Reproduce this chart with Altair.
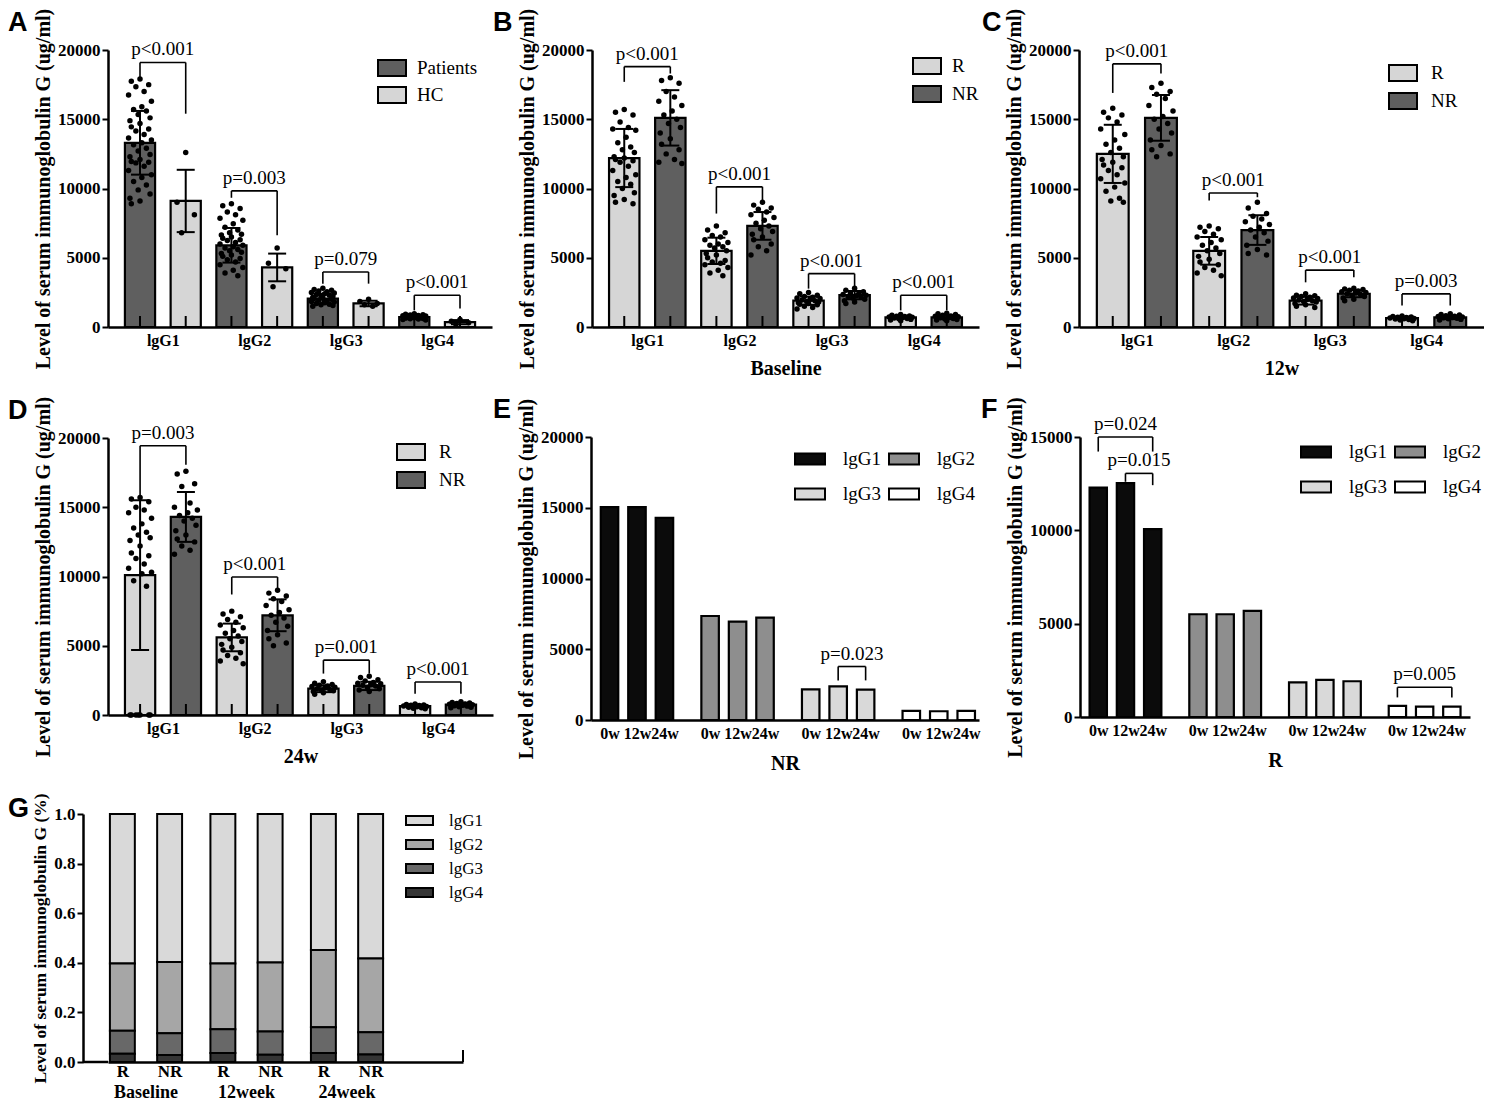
import altair as alt
import pandas as pd

SERIF = "Liberation Serif"
SANS = "Liberation Sans"
CATS = ["lgG1", "lgG2", "lgG3", "lgG4"]
TIMES = ["0w", "12w", "24w"]
YTITLE = "Level of serum immunoglobulin G (ug/ml)"
DARK = "#5f5f5f"
LIGHT = "#d6d6d6"

# ---------------- Panel A : Patients vs HC ----------------
A_GROUPS = ["Patients", "HC"]
A_MEAN_PAT = [13300, 5900, 2050, 720]
A_SD_PAT = [2300, 1250, 350, 120]
A_MEAN_HC = [9100, 4300, 1700, 350]
A_SD_HC = [2250, 1000, 200, 150]
A_DOTS_PAT = [
    [17900, 17750, 17500, 17350, 17000, 16750, 16300, 15900, 15700, 15600, 15350, 15100, 14900, 14700,
     14450, 14300, 14150, 13900, 13650, 13500, 13300, 13150, 12900, 12700, 12450, 12300, 12100, 11950,
     11900, 11850, 11600, 11300, 11000, 10800, 10500, 10250, 9900, 9600, 9300, 9100, 8900],
    [8900, 8750, 8550, 8300, 8100, 7850, 7700, 7450, 7200, 7000, 6800, 6700, 6650, 6500, 6400, 6300,
     6250, 6100, 6000, 5900, 5800, 5700, 5600, 5500, 5400, 5300, 5200, 5100, 4950, 4850, 4700, 4500,
     4300, 4100, 3900, 3700],
    [2800, 2700, 2650, 2600, 2550, 2500, 2450, 2400, 2350, 2300, 2250, 2200, 2150, 2100, 2050, 2000,
     1950, 1900, 1850, 1800, 1750, 1700, 1650, 1600, 1550, 1500],
    [950, 920, 890, 860, 840, 820, 800, 780, 760, 740, 720, 700, 680, 660, 640, 620, 600, 570, 540, 510],
]
A_DOTS_HC = [
    [12600, 9000, 8100, 6800],
    [5700, 4600, 4200, 2900],
    [2000, 1850, 1700, 1600, 1500],
    [550, 420, 300, 200],
]
A_BRK_TOP = [19100, 9830, 3975, 2290]
A_BRK_LBOT = [18000, 9330, 3130, 1200]
A_BRK_RBOT = [15400, 6630, 3130, 1330]
A_PLAB = ["p<0.001", "p=0.003", "p=0.079", "p<0.001"]

# ---------------- Panel B : Baseline R vs NR ----------------
RN_GROUPS = ["R", "NR"]
B_MEAN_R = [12200, 5500, 1900, 700]
B_SD_R = [2100, 950, 300, 90]
B_MEAN_NR = [15100, 7300, 2300, 700]
B_SD_NR = [2000, 1000, 300, 130]
B_DOTS_R = [
    [15700, 15500, 15300, 14800, 14400, 14300, 14200, 13700, 13300, 13000, 12800, 12600, 12300, 12200,
     12100, 12000, 11900, 11600, 11300, 11000, 10800, 10500, 10300, 10000, 9700, 9500, 9200, 9000, 8900],
    [7300, 7000, 6800, 6600, 6500, 6300, 6100, 6000, 5900, 5800, 5700, 5500, 5300, 5200, 5000, 4800,
     4700, 4600, 4500, 4300, 4100, 3900, 3700],
    [2500, 2400, 2300, 2200, 2150, 2100, 2050, 2000, 1950, 1900, 1850, 1800, 1750, 1700, 1650, 1600,
     1500, 1400, 1300],
    [900, 850, 800, 780, 750, 720, 700, 680, 650, 620, 600, 550, 500, 450],
]
B_DOTS_NR = [
    [18000, 17800, 17600, 17000, 16600, 16300, 16000, 15600, 15300, 15000, 14700, 14400, 14000, 13600,
     13200, 12800, 12500, 12100, 11900, 11800],
    [9000, 8800, 8600, 8500, 8300, 8100, 7900, 7700, 7500, 7300, 7100, 6900, 6700, 6500, 6300, 6000,
     5800, 5500, 5200],
    [2800, 2650, 2550, 2450, 2400, 2350, 2300, 2250, 2200, 2150, 2100, 2000, 1900, 1800, 1700],
    [1000, 950, 900, 850, 800, 770, 740, 700, 660, 620, 580, 540, 500, 450],
]
B_BRK_TOP = [18800, 10120, 3855, 2290]
B_BRK_LBOT = [17700, 8190, 2770, 1200]
B_BRK_RBOT = [18300, 9160, 2890, 1200]
B_PLAB = ["p<0.001", "p<0.001", "p<0.001", "p<0.001"]

# ---------------- Panel C : 12w R vs NR ----------------
C_MEAN_R = [12500, 5500, 1900, 650]
C_SD_R = [2100, 1000, 280, 100]
C_MEAN_NR = [15100, 7000, 2400, 700]
C_SD_NR = [1650, 1070, 250, 130]
C_DOTS_R = [
    [15800, 15500, 15300, 15100, 14800, 14300, 13900, 13500, 13200, 12900, 12600, 12300, 12100, 11900,
     11700, 11500, 11300, 11000, 10700, 10400, 10100, 9800, 9300, 9100, 9000],
    [7300, 7200, 7100, 6900, 6700, 6500, 6300, 6100, 5900, 5700, 5500, 5300, 5100, 4900, 4700, 4500,
     4300, 4100, 3900, 3700],
    [2400, 2300, 2250, 2200, 2150, 2100, 2050, 2000, 1950, 1900, 1850, 1800, 1700, 1600, 1500, 1400],
    [800, 760, 730, 700, 680, 650, 620, 600, 570, 540, 500, 450],
]
C_DOTS_NR = [
    [17600, 17300, 17000, 16800, 16500, 16000, 15600, 15200, 15000, 14700, 14300, 14000, 13500, 13100,
     12800, 12500, 12300],
    [9000, 8600, 8200, 8000, 7800, 7600, 7400, 7200, 7000, 6800, 6500, 6200, 5900, 5600, 5300, 5200],
    [2800, 2750, 2700, 2650, 2600, 2550, 2500, 2450, 2400, 2350, 2300, 2200, 2100, 2000, 1900],
    [950, 900, 860, 820, 780, 750, 720, 690, 660, 630, 600, 550, 500],
]
C_BRK_TOP = [19000, 9680, 4110, 2390]
C_BRK_LBOT = [16900, 9130, 3225, 1550]
C_BRK_RBOT = [18300, 9370, 3585, 1550]
C_PLAB = ["p<0.001", "p<0.001", "p<0.001", "p=0.003"]

# ---------------- Panel D : 24w R vs NR ----------------
D_MEAN_R = [10100, 5600, 1900, 650]
D_SD_R = [5400, 1000, 250, 100]
D_MEAN_NR = [14300, 7200, 2100, 750]
D_SD_NR = [1800, 1150, 300, 130]
D_DOTS_R = [
    [15700, 15600, 15400, 15000, 14800, 14600, 14200, 13800, 13500, 13200, 13000, 12800, 12600, 12200,
     11700, 11500, 11300, 10900, 10600, 10300, 10200, 9700, 9300, 0, 0, 0, 0, 0, 0, 0],
    [7500, 7300, 7100, 6900, 6700, 6500, 6300, 6100, 5900, 5700, 5500, 5300, 5100, 4900, 4700, 4500,
     4300, 4100, 3900, 3700],
    [2400, 2300, 2200, 2150, 2100, 2050, 2000, 1950, 1900, 1850, 1800, 1750, 1700, 1600, 1500],
    [800, 760, 720, 700, 680, 650, 620, 600, 560, 520, 480, 450],
]
D_DOTS_NR = [
    [17600, 17400, 16700, 16500, 15300, 15000, 14800, 14600, 14400, 14200, 14000, 13700, 13300, 13000,
     12700, 12500, 12200, 11900, 11600],
    [9000, 8800, 8600, 8400, 8200, 7900, 7600, 7400, 7200, 7000, 6700, 6400, 6100, 5800, 5500, 5200, 5000],
    [2800, 2700, 2550, 2450, 2350, 2300, 2250, 2200, 2150, 2100, 2000, 1900, 1800, 1700],
    [950, 900, 870, 840, 800, 770, 740, 700, 670, 640, 600, 560, 520],
]
D_BRK_TOP = [19440, 9960, 3960, 2380]
D_BRK_LBOT = [15870, 8700, 2990, 1530]
D_BRK_RBOT = [18060, 9060, 2990, 1530]
D_PLAB = ["p=0.003", "p<0.001", "p=0.001", "p<0.001"]

# ---------------- Panel E : NR over time ----------------
E_VALS = [[15050, 15050, 14280], [7350, 6950, 7230], [2170, 2380, 2150], [650, 620, 640]]
E_BRK_CAT = [2]
E_BRK_L = [1]
E_BRK_R = [2]
E_BRK_TOP = [3780]
E_BRK_LBOT = [2800]
E_BRK_RBOT = [2800]
E_PLAB = ["p=0.023"]

# ---------------- Panel F : R over time ----------------
F_VALS = [[12290, 12530, 10070], [5505, 5505, 5690], [1860, 1985, 1915], [600, 560, 560]]
F_BRK_CAT = [0, 0, 3]
F_BRK_L = [0, 1, 0]
F_BRK_R = [2, 2, 2]
F_BRK_TOP = [15000, 13050, 1590]
F_BRK_LBOT = [14220, 12600, 1050]
F_BRK_RBOT = [14220, 12420, 1050]
F_PLAB = ["p=0.024", "p=0.015", "p=0.005"]

# ---------------- Panel G : proportions ----------------
G_PERIODS = ["Baseline", "12week", "24week"]
G_IGG1 = [0.603, 0.597, 0.603, 0.599, 0.548, 0.583]
G_IGG2 = [0.271, 0.287, 0.265, 0.278, 0.312, 0.297]
G_IGG3 = [0.093, 0.088, 0.096, 0.094, 0.104, 0.090]
G_IGG4 = [0.033, 0.028, 0.036, 0.029, 0.036, 0.030]

# ---------------- helpers ----------------
HW = 0.165
JIT = [0.0, -0.095, 0.095, -0.045, 0.045, -0.125, 0.125, 0.02, -0.07, 0.07, -0.02, 0.11, -0.11]
CAT_EXPR = "[" + ",".join("'%s'" % c for c in CATS) + "][round(datum.value)]"
RECT_WIDE = "M-1,-0.57H1V0.57H-1Z"
RECT_THIN = "M-1,-0.37H1V0.37H-1Z"
RECT_G = "M-1,-0.33H1V0.33H-1Z"
LETTER_Y = -40


def letter_layer(letter, dx, dy):
    return alt.Chart(pd.DataFrame({"t": [letter]})).mark_text(
        font=SANS, fontSize=27, fontWeight="bold", align="left", baseline="top", color="black"
    ).encode(x=alt.value(dx), y=alt.value(dy), text="t:N")


def rect_legend(x, y, path, size, label_offset, row_pad, columns=1, col_pad=0, font_size=19):
    kw = dict(title=None, orient="none", legendX=x, legendY=y, symbolType=path, symbolSize=size,
              symbolStrokeColor="black", symbolStrokeWidth=2, labelFont=SERIF,
              labelFontSize=font_size, labelColor="black", labelOffset=label_offset,
              rowPadding=row_pad, symbolOpacity=1)
    if columns > 1:
        kw.update(columns=columns, columnPadding=col_pad, direction="horizontal")
    return alt.Legend(**kw)


def yaxis(values, title, fmt="d", title_size=20, offset=0):
    return alt.Axis(values=values, format=fmt, title=title, grid=False, tickSize=6,
                    labelPadding=2, titlePadding=4, titleFontSize=title_size, offset=offset)


def pair_panel(letter, dx, groups, fills, means, sds, dots, b_top, b_lbot, b_rbot, b_lab,
               xtitle, width, height, legend):
    bar_rows, dot_rows = [], []
    for gi, g in enumerate(groups):
        for ci in range(4):
            pos = ci + (gi - 0.5) * 0.5
            m, s = means[gi][ci], sds[gi][ci]
            bar_rows.append(dict(grp=g, pos=pos, x1=pos - HW, x2=pos + HW, mean=m, lo=m - s, hi=m + s))
            for k, v in enumerate(dots[gi][ci]):
                dot_rows.append(dict(jx=pos + JIT[k % len(JIT)], val=v))
    bdf = pd.DataFrame(bar_rows)
    ddf = pd.DataFrame(dot_rows)
    leg_rows, hz_rows, txt_rows = [], [], []
    for ci in range(4):
        lx, rx = ci - 0.25, ci + 0.25
        leg_rows.append(dict(x=lx, top=b_top[ci], bot=b_lbot[ci]))
        leg_rows.append(dict(x=rx, top=b_top[ci], bot=b_rbot[ci]))
        hz_rows.append(dict(lx=lx, rx=rx, top=b_top[ci]))
        txt_rows.append(dict(x=ci, top=b_top[ci], label=b_lab[ci]))
    ldf, hdf, tdf = pd.DataFrame(leg_rows), pd.DataFrame(hz_rows), pd.DataFrame(txt_rows)

    xs = alt.Scale(domain=[-0.6, 3.6], nice=False, zero=False)
    ys = alt.Scale(domain=[0, 20000], nice=False)
    ax_kw = dict(values=[0, 1, 2, 3], labelExpr=CAT_EXPR, ticks=False, labelFontSize=16,
                 labelPadding=5, labelOverlap=False, labelFlush=False, grid=False)
    if xtitle:
        ax_kw.update(title=xtitle, titlePadding=10, titleFontSize=20)
    else:
        ax_kw.update(title=None)
    xax = alt.Axis(**ax_kw)
    yax = yaxis([0, 5000, 10000, 15000, 20000], YTITLE)

    def X(f):
        return alt.X(f, scale=xs, axis=xax)

    def Y(f):
        return alt.Y(f, scale=ys, axis=yax)

    bars = alt.Chart(bdf).mark_rect(stroke="black", strokeWidth=2.2).encode(
        x=X("x1:Q"), x2=alt.X2("x2"), y=Y("mean:Q"), y2=alt.datum(0),
        fill=alt.Fill("grp:N", scale=alt.Scale(domain=groups, range=fills), legend=legend),
    )
    base_ticks = alt.Chart(bdf).mark_tick(orient="vertical", size=11, thickness=2, color="black",
                                          yOffset=-5.5, opacity=1).encode(
        x=X("pos:Q"), y=alt.datum(0))
    dots_l = alt.Chart(ddf).mark_circle(size=30, color="black", opacity=1).encode(
        x=X("jx:Q"), y=Y("val:Q"))
    err = alt.Chart(bdf).mark_rule(color="black", strokeWidth=2).encode(
        x=X("pos:Q"), y=Y("lo:Q"), y2=alt.Y2("hi"))
    caps = alt.Chart(bdf).transform_fold(["lo", "hi"], as_=["k", "v"]).mark_tick(
        orient="horizontal", size=18, thickness=2, color="black", opacity=1).encode(
        x=X("pos:Q"), y=Y("v:Q"))
    legs = alt.Chart(ldf).mark_rule(color="black", strokeWidth=1.6).encode(
        x=X("x:Q"), y=Y("top:Q"), y2=alt.Y2("bot"))
    hz = alt.Chart(hdf).mark_rule(color="black", strokeWidth=1.6).encode(
        x=X("lx:Q"), x2=alt.X2("rx"), y=Y("top:Q"))
    txt = alt.Chart(tdf).mark_text(font=SERIF, fontSize=19, baseline="bottom", dy=-3,
                                   color="black").encode(
        x=X("x:Q"), y=Y("top:Q"), text="label:N")
    return alt.layer(bars, base_ticks, dots_l, err, caps, legs, hz, txt,
                     letter_layer(letter, dx, LETTER_Y)).properties(width=width, height=height)


TOFF = 0.273
THW = 0.087
TIME_EXPR = ("(datum.value - round(datum.value)) < -0.1 ? '0w' : "
             "((datum.value - round(datum.value)) > 0.1 ? '24w' : '12w')")


def time_panel(letter, dx, vals, ymax, yvals, xdom, bcat, bl, br, btop, blbot, brbot, blab,
               xtitle, width, height, legend):
    rows, xvals = [], []
    for ci, c in enumerate(CATS):
        for ti in range(3):
            pos = ci + (ti - 1) * TOFF
            xvals.append(round(pos, 4))
            rows.append(dict(cat=c, x1=pos - THW, x2=pos + THW, val=vals[ci][ti]))
    bdf = pd.DataFrame(rows)
    leg_rows, hz_rows, txt_rows = [], [], []
    for i in range(len(bcat)):
        lx = bcat[i] + (bl[i] - 1) * TOFF
        rx = bcat[i] + (br[i] - 1) * TOFF
        leg_rows.append(dict(x=lx, top=btop[i], bot=blbot[i]))
        leg_rows.append(dict(x=rx, top=btop[i], bot=brbot[i]))
        hz_rows.append(dict(lx=lx, rx=rx, top=btop[i]))
        txt_rows.append(dict(x=(lx + rx) / 2, top=btop[i], label=blab[i]))
    ldf, hdf, tdf = pd.DataFrame(leg_rows), pd.DataFrame(hz_rows), pd.DataFrame(txt_rows)
    xs = alt.Scale(domain=xdom, nice=False, zero=False)
    ys = alt.Scale(domain=[0, ymax], nice=False)
    xax = alt.Axis(values=xvals, labelExpr=TIME_EXPR, ticks=False, labelFontSize=16,
                   labelPadding=5, labelOverlap=False, labelFlush=False, grid=False,
                   title=xtitle, titlePadding=12, titleFontSize=20)
    yax = yaxis(yvals, YTITLE)

    def X(f):
        return alt.X(f, scale=xs, axis=xax)

    def Y(f):
        return alt.Y(f, scale=ys, axis=yax)

    bars = alt.Chart(bdf).mark_rect(stroke="black", strokeWidth=2.2).encode(
        x=X("x1:Q"), x2=alt.X2("x2"), y=Y("val:Q"), y2=alt.datum(0),
        fill=alt.Fill("cat:N", scale=alt.Scale(domain=CATS,
                                               range=["#0b0b0b", "#8e8e8e", "#d9d9d9", "#ffffff"]),
                      legend=legend),
    )
    legs = alt.Chart(ldf).mark_rule(color="black", strokeWidth=1.6).encode(
        x=X("x:Q"), y=Y("top:Q"), y2=alt.Y2("bot"))
    hz = alt.Chart(hdf).mark_rule(color="black", strokeWidth=1.6).encode(
        x=X("lx:Q"), x2=alt.X2("rx"), y=Y("top:Q"))
    txt = alt.Chart(tdf).mark_text(font=SERIF, fontSize=19, baseline="bottom", dy=-3,
                                   color="black").encode(
        x=X("x:Q"), y=Y("top:Q"), text="label:N")
    return alt.layer(bars, legs, hz, txt, letter_layer(letter, dx, LETTER_Y)).properties(
        width=width, height=height)


# ---------------- build panels ----------------
A = pair_panel("A", -100, A_GROUPS, [DARK, LIGHT], [A_MEAN_PAT, A_MEAN_HC], [A_SD_PAT, A_SD_HC],
               [A_DOTS_PAT, A_DOTS_HC], A_BRK_TOP, A_BRK_LBOT, A_BRK_RBOT, A_PLAB, None, 384, 277,
               rect_legend(269, 3, RECT_WIDE, 784, 10, 0))
B = pair_panel("B", -99, RN_GROUPS, [LIGHT, DARK], [B_MEAN_R, B_MEAN_NR], [B_SD_R, B_SD_NR],
               [B_DOTS_R, B_DOTS_NR], B_BRK_TOP, B_BRK_LBOT, B_BRK_RBOT, B_PLAB, "Baseline", 387, 277,
               rect_legend(320, 1, RECT_WIDE, 784, 10, 1))
C = pair_panel("C", -97, RN_GROUPS, [LIGHT, DARK], [C_MEAN_R, C_MEAN_NR], [C_SD_R, C_SD_NR],
               [C_DOTS_R, C_DOTS_NR], C_BRK_TOP, C_BRK_LBOT, C_BRK_RBOT, C_PLAB, "12w", 405, 277,
               rect_legend(309, 8, RECT_WIDE, 784, 13, 1))
D = pair_panel("D", -100, RN_GROUPS, [LIGHT, DARK], [D_MEAN_R, D_MEAN_NR], [D_SD_R, D_SD_NR],
               [D_DOTS_R, D_DOTS_NR], D_BRK_TOP, D_BRK_LBOT, D_BRK_RBOT, D_PLAB, "24w", 385, 277,
               rect_legend(288, -1, RECT_WIDE, 784, 13, 1))
E = time_panel("E", -98, E_VALS, 20000, [0, 5000, 10000, 15000, 20000], [-0.457, 3.40],
               E_BRK_CAT, E_BRK_L, E_BRK_R, E_BRK_TOP, E_BRK_LBOT, E_BRK_RBOT, E_PLAB, "NR", 388, 283,
               rect_legend(203, 6, RECT_THIN, 900, 17, 9, columns=2, col_pad=4))
F = time_panel("F", -99, F_VALS, 15000, [0, 5000, 10000, 15000], [-0.456, 3.455],
               F_BRK_CAT, F_BRK_L, F_BRK_R, F_BRK_TOP, F_BRK_LBOT, F_BRK_RBOT, F_PLAB, "R", 390, 280,
               rect_legend(220, -1, RECT_THIN, 900, 17, 9, columns=2, col_pad=4))

# Panel G (y axis drawn 25px left of the aligned plot origin)
g_rows = []
g_fracs = [G_IGG1, G_IGG2, G_IGG3, G_IGG4]
G_XVALS = []
for p in range(3):
    for gi, g in enumerate(RN_GROUPS):
        b = p * 2 + gi
        pos = p + (gi - 0.5) * 0.47
        G_XVALS.append(round(pos, 4))
        for ci, c in enumerate(CATS):
            g_rows.append(dict(bar=b, cat=c, ord=3 - ci, frac=g_fracs[ci][b],
                               x1=pos - 0.124, x2=pos + 0.124))
gdf = pd.DataFrame(g_rows)
G_AXIS_LEFT = -0.627
G_XDOM = [-0.378, 3.154]
gxs = alt.Scale(domain=G_XDOM, nice=False, zero=False)
gys = alt.Scale(domain=[0, 1], nice=False)
gxax = alt.Axis(values=G_XVALS, labelExpr="(datum.value - round(datum.value)) < 0 ? 'R' : 'NR'",
                ticks=False, labelFontSize=17, labelPadding=1, labelOverlap=False, labelFlush=False,
                grid=False, title=None)
gyax = yaxis([0, 0.2, 0.4, 0.6, 0.8, 1.0], "Level of serum immunoglobulin G (%)", fmt=".1f",
             title_size=17.5, offset=25)
g_bars = alt.Chart(gdf).transform_stack(
    stack="frac", groupby=["bar"], as_=["y0", "y1"], sort=[alt.SortField("ord", order="ascending")]
).mark_rect(stroke="black", strokeWidth=2).encode(
    x=alt.X("x1:Q", scale=gxs, axis=gxax),
    x2=alt.X2("x2"),
    y=alt.Y("y0:Q", scale=gys, axis=gyax),
    y2=alt.Y2("y1"),
    fill=alt.Fill("cat:N", scale=alt.Scale(domain=CATS,
                                           range=["#d9d9d9", "#a6a6a6", "#686868", "#353535"]),
                  legend=rect_legend(297, -8, RECT_G, 729, 15, 1, font_size=17)),
)
g_lab = alt.Chart(pd.DataFrame({"p": [0, 1, 2], "name": G_PERIODS})).mark_text(
    font=SERIF, fontSize=18, fontWeight="bold", baseline="middle", dy=31, color="black").encode(
    x=alt.X("p:Q", scale=gxs, axis=gxax), y=alt.datum(0), text="name:N")
g_end = alt.Chart(pd.DataFrame({"e": [G_XDOM[1]]})).mark_tick(
    orient="vertical", size=12, thickness=2, color="black", yOffset=-6, opacity=1).encode(
    x=alt.X("e:Q", scale=gxs, axis=gxax), y=alt.datum(0))
g_base = alt.Chart(pd.DataFrame({"a": [G_AXIS_LEFT], "b": [G_XDOM[0]]})).mark_rule(
    color="black", strokeWidth=2.5).encode(
    x=alt.X("a:Q", scale=gxs, axis=gxax), x2=alt.X2("b"), y=alt.datum(0))
G = alt.layer(g_bars, g_lab, g_end, g_base, letter_layer("G", -100, -18)).properties(
    width=355, height=248)

chart = alt.concat(A, B, C, D, E, F, G, columns=3, align="none", bounds="full",
                   spacing={"row": 18, "column": 0}).resolve_scale(
    fill="independent", x="independent", y="independent"
).properties(padding=0, background="white").configure_view(stroke=None).configure_axis(
    domainColor="black", domainWidth=2.5, tickColor="black", tickWidth=2, tickSize=6,
    labelColor="black", labelFont=SERIF, labelFontWeight="bold", labelFontSize=17,
    titleColor="black", titleFont=SERIF, titleFontWeight="bold", titleFontSize=19, grid=False
)

chart.save("out.html", embed_options={"renderer": "svg", "actions": False})
